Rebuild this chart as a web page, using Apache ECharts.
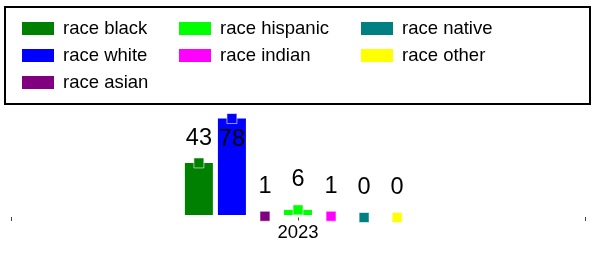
<!DOCTYPE html>
<html>
<head>
<meta charset="utf-8">
<script src="https://cdn.jsdelivr.net/npm/echarts@6/dist/echarts.min.js"></script>
<style>
  html, body { margin: 0; padding: 0; background: #fff; }
  #race-bar { width: 592px; height: 255px; }
</style>
</head>
<body>
<div id="race-bar"></div>
<script>
// data
const categories = ['2023']
const seriesNames = ['race black', 'race white', 'race asian', 'race hispanic', 'race indian', 'race native', 'race other']
const seriesValues = [43, 78, 1, 6, 1, 0, 0]
const colorArr = ['#008000', '#0000ff', '#800080', '#00ff00', '#ff00ff', '#008080', '#ffff00']

// legend columns (the original lays them out column by column)
const legendCols = [
  ['race black', 'race white', 'race asian'],
  ['race hispanic', 'race indian'],
  ['race native', 'race other']
]
const legendLeft = [22, 179, 361]

const font = 'Liberation Sans, Arial, sans-serif'

var myChart = echarts.init(document.getElementById('race-bar'))

// visible bars: grid 0, its bottom sits a bit above zero so the bars look cut off
var barSeries = seriesNames.map((name, i) => ({
  name: name,
  type: 'bar',
  xAxisIndex: 0,
  yAxisIndex: 0,
  barWidth: 28,
  barGap: '18%',
  clip: true,
  data: [seriesValues[i]],
  itemStyle: {color: colorArr[i]}
}))

// square markers + numbers: grid 1, same scale but zero inside the grid
var markSeries = seriesNames.map((name, i) => {
  var label = {
    show: true,
    position: 'top',
    distance: i === 0 ? 7 : 12.5,
    color: '#000',
    fontSize: 23.5,
    fontFamily: font,
    formatter: '{c}'
  }
  if (i === 1) {
    // white bar keeps its number just under the marker
    label.position = 'bottom'
    label.distance = 3
  }
  return {
    name: name,
    type: 'bar',
    xAxisIndex: 1,
    yAxisIndex: 1,
    barWidth: 28,
    barGap: '18%',
    silent: true,
    data: [seriesValues[i]],
    itemStyle: {color: 'rgba(0,0,0,0)'},
    markPoint: {
      symbol: 'rect',
      symbolSize: 10,
      label: label,
      itemStyle: {color: colorArr[i], borderColor: 'rgba(255,255,255,0.6)', borderWidth: 1},
      data: [{type: 'max'}]
    }
  }
})

var legends = legendCols.map((col, i) => ({
  orient: 'vertical',
  left: legendLeft[i],
  top: 19,
  padding: 0,
  itemGap: 8,
  itemWidth: 32,
  itemHeight: 13,
  icon: 'rect',
  data: col,
  textStyle: {
    color: '#000',
    fontSize: 18.5,
    lineHeight: 19,
    fontFamily: font,
    padding: [0, 0, 0, 4]
  }
}))

var option = {
  animation: false,
  color: colorArr,
  legend: legends,
  graphic: [{
    type: 'rect',
    shape: {x: 5, y: 7, width: 585, height: 97},
    style: {fill: 'none', stroke: '#000', lineWidth: 2}
  }],
  grid: [
    {left: 11, right: 7, top: 116, bottom: 40, containLabel: false},
    {left: 11, right: 7, top: 116, bottom: 37.5, containLabel: false}
  ],
  xAxis: [{
    type: 'category',
    gridIndex: 0,
    data: categories,
    offset: 2,
    axisLine: {show: false},
    axisTick: {show: true, length: 4, lineStyle: {color: '#444'}},
    axisLabel: {color: '#000', fontSize: 18.5, fontFamily: font, margin: 6}
  }, {
    // only draws the centre tick under 2023
    type: 'category',
    gridIndex: 1,
    data: categories,
    axisLine: {show: false},
    axisTick: {show: true, alignWithLabel: true, length: 3, lineStyle: {color: '#444'}},
    axisLabel: {show: false}
  }],
  yAxis: [
    {type: 'value', gridIndex: 0, min: 2, max: 80, show: false},
    {type: 'value', gridIndex: 1, min: 0, max: 80, show: false}
  ],
  series: barSeries.concat(markSeries)
}
myChart.setOption(option)
</script>
</body>
</html>
